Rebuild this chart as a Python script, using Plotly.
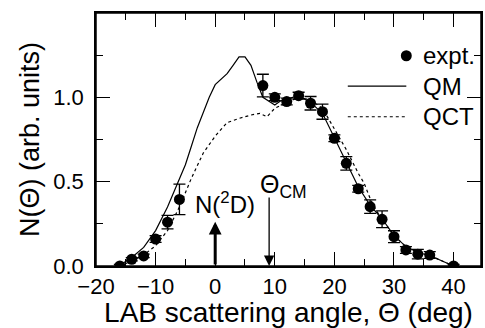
import plotly.graph_objects as go

# experimental points
expt_x = [-16, -14, -12, -10, -8, -6, 8, 10, 12, 14, 16, 18, 20, 22, 24, 26, 28, 30, 32, 34, 36, 40]
expt_y = [0.0, 0.04, 0.06, 0.16, 0.26, 0.395, 1.07, 1.0, 0.975, 1.01, 0.965, 0.915, 0.757, 0.609,
          0.458, 0.352, 0.277, 0.174, 0.095, 0.07, 0.065, 0.0]
expt_err = [0.01, 0.01, 0.01, 0.02, 0.04, 0.09, 0.067, 0.02, 0.02, 0.02, 0.04, 0.045, 0.02, 0.04,
            0.02, 0.04, 0.05, 0.035, 0.02, 0.028, 0.02, 0.01]

# QM curve
qm_x = [-16, -14, -12, -10, -8, -6, -5, -4, -3, -2, -1, 0, 2, 3, 4, 5, 6, 7, 8, 10, 11, 14,
        16, 18, 20, 22, 24, 26, 28, 30, 32, 34, 36, 40]
qm_y = [0.005, 0.05, 0.11, 0.21, 0.35, 0.51, 0.60, 0.71, 0.82, 0.91, 1.0, 1.075, 1.14, 1.19,
        1.24, 1.24, 1.19, 1.09, 1.0, 0.955, 0.98, 1.01, 0.97, 0.905, 0.76, 0.61, 0.47, 0.36,
        0.28, 0.18, 0.115, 0.08, 0.062, 0.0]

# QCT curve
qct_x = [-16, -14, -12, -10, -8, -6, -4, -2, 0, 2, 4, 6, 7.5, 8.7, 10, 12, 14, 16, 18, 20, 22,
         24, 25, 26, 27, 28, 30, 32, 34, 36, 40]
qct_y = [0.0, 0.03, 0.065, 0.12, 0.21, 0.35, 0.52, 0.67, 0.77, 0.85, 0.875, 0.895, 0.905,
         0.885, 0.935, 0.97, 1.0, 0.985, 0.935, 0.81, 0.69, 0.55, 0.49, 0.40, 0.33, 0.28, 0.18,
         0.115, 0.08, 0.062, 0.0]

x_ticks = [-20, -10, 0, 10, 20, 30, 40]
x_minor = [-15, -5, 5, 15, 25, 35]
y_ticks = [0.0, 0.5, 1.0]
y_minor = [0.25, 0.75, 1.25]

FONT = "Liberation Sans, Arial, Helvetica, sans-serif"

fig = go.Figure()
fig.add_trace(go.Scatter(x=qct_x, y=qct_y, mode="lines",
                         line=dict(color="black", width=1.2, dash="3px,3px"), showlegend=False))
fig.add_trace(go.Scatter(x=qm_x, y=qm_y, mode="lines",
                         line=dict(color="black", width=1.2), showlegend=False))
fig.add_trace(go.Scatter(x=expt_x, y=expt_y, mode="markers",
                         marker=dict(color="black", size=11),
                         error_y=dict(type="data", array=expt_err, color="black",
                                      thickness=1.3, width=6),
                         showlegend=False))

axis_common = dict(showline=True, linecolor="black", linewidth=1.5, mirror="ticks",
                   ticks="inside", ticklen=14, tickwidth=1.3, tickcolor="black",
                   showgrid=False, zeroline=False,
                   tickfont=dict(family=FONT, size=22, color="black"))

fig.update_xaxes(range=[-20, 44.6], tickvals=x_ticks,
                 minor=dict(tickvals=x_minor, ticks="inside", ticklen=7, tickwidth=1.3,
                            tickcolor="black", showgrid=False),
                 title=dict(text="LAB scattering angle, Θ (deg)",
                            font=dict(family=FONT, size=28, color="black"), standoff=3),
                 **axis_common)
fig.update_yaxes(range=[0, 1.5], tickvals=y_ticks, tickformat=".1f",
                 minor=dict(tickvals=y_minor, ticks="inside", ticklen=7, tickwidth=1.3,
                            tickcolor="black", showgrid=False),
                 title=dict(text="N(Θ) (arb. units)",
                            font=dict(family=FONT, size=27, color="black"), standoff=6),
                 ticklabelstandoff=6,
                 **axis_common)

# frame
fig.add_shape(type="rect", xref="paper", yref="paper", x0=0, x1=1, y0=0, y1=1,
              line=dict(color="black", width=1.5), fillcolor="rgba(0,0,0,0)", layer="above")

# arrows and labels
fig.add_annotation(x=0, y=0.263, ax=0, ay=0, xref="x", yref="y", axref="x", ayref="y",
                   text="", showarrow=True, arrowhead=2, arrowwidth=3, arrowsize=0.85,
                   arrowcolor="black", standoff=0, startstandoff=0)
fig.add_annotation(x=1.7, y=0.375, xref="x", yref="y", text="N(<sup>2</sup>D)",
                   showarrow=False, font=dict(family=FONT, size=24, color="black"))
fig.add_annotation(x=9.05, y=0.0, ax=9.05, ay=0.415, xref="x", yref="y", axref="x", ayref="y",
                   text="", showarrow=True, arrowhead=2, arrowwidth=1.3, arrowsize=1.6,
                   arrowcolor="black", standoff=0, startstandoff=0)
fig.add_annotation(x=11.4, y=0.475, xref="x", yref="y", text="Θ<sub>CM</sub>",
                   showarrow=False, font=dict(family=FONT, size=25, color="black"))

# manual legend (paper coordinates)
fig.add_shape(type="circle", xref="paper", yref="paper",
              x0=0.806 - 5.5 / 387, x1=0.806 + 5.5 / 387,
              y0=0.831 - 5.5 / 253, y1=0.831 + 5.5 / 253,
              fillcolor="black", line=dict(color="black", width=0))
fig.add_shape(type="line", xref="paper", yref="paper", x0=0.654, x1=0.806, y0=0.711, y1=0.711,
              line=dict(color="black", width=1.2))
fig.add_shape(type="line", xref="paper", yref="paper", x0=0.654, x1=0.806, y0=0.590, y1=0.590,
              line=dict(color="black", width=1.2, dash="3px,3px"))
for txt, yy in [("expt.", 0.831), ("QM", 0.711), ("QCT", 0.590)]:
    fig.add_annotation(x=0.845, y=yy, xref="paper", yref="paper", text=txt, showarrow=False,
                       xanchor="left", yanchor="middle",
                       font=dict(family=FONT, size=24, color="black"))

fig.update_layout(width=485, height=328, margin=dict(l=96, r=2, t=13, b=62),
                  paper_bgcolor="white", plot_bgcolor="white", showlegend=False)

fig.write_html("out.html", config={"displayModeBar": False},
               post_script="document.body.style.margin='0';document.body.style.overflow='hidden';")
